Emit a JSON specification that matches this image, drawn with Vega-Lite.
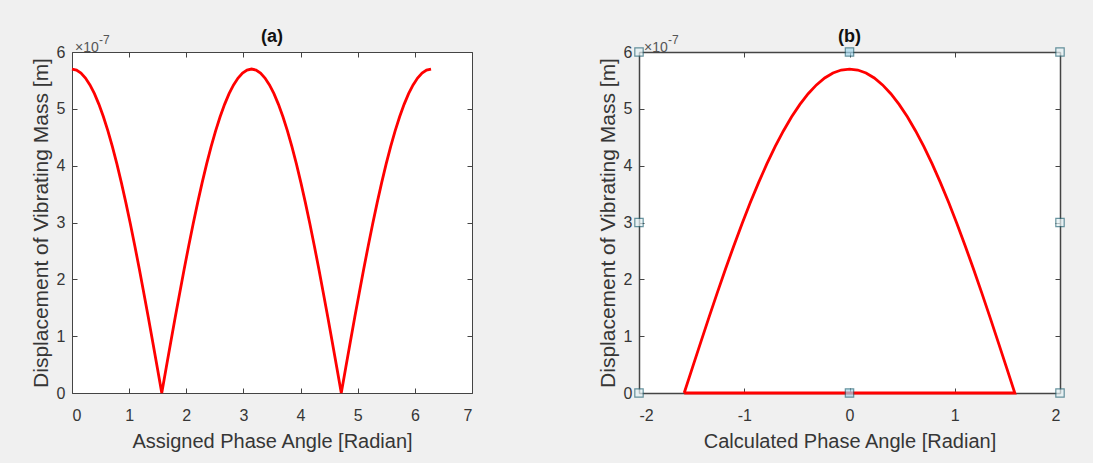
{
  "$schema": "https://vega.github.io/schema/vega-lite/v6.json",
  "background": "#f0f0f0",
  "padding": {"left": 30, "top": 28, "right": 32, "bottom": 12},
  "bounds": "flush",
  "spacing": 167,
  "config": {
    "font": "Liberation Sans",
    "view": {"stroke": null, "fill": "white"},
    "axis": {
      "domainColor": "#444444", "tickColor": "#444444", "tickSize": -5, "grid": false,
      "labelFont": "Liberation Sans", "labelFontSize": 16, "labelColor": "#363636",
      "titleFont": "Liberation Sans", "titleFontSize": 20, "titleFontWeight": "normal", "titleColor": "#363636"
    },
    "title": {"fontSize": 18, "fontWeight": "bold", "color": "#111", "font": "Liberation Sans"}
  },
  "datasets": {
    "a": [
      {"x": 0, "d": 5.7e-7}, {"x": 0.0785, "d": 5.6825e-7}, {"x": 0.1571, "d": 5.6298e-7}, {"x": 0.2356, "d": 5.5425e-7},
      {"x": 0.3142, "d": 5.421e-7}, {"x": 0.3927, "d": 5.2661e-7}, {"x": 0.4712, "d": 5.0788e-7}, {"x": 0.5498, "d": 4.86e-7},
      {"x": 0.6283, "d": 4.6114e-7}, {"x": 0.7069, "d": 4.3344e-7}, {"x": 0.7854, "d": 4.0305e-7}, {"x": 0.8639, "d": 3.7019e-7},
      {"x": 0.9425, "d": 3.3504e-7}, {"x": 1.021, "d": 2.9783e-7}, {"x": 1.0996, "d": 2.5877e-7}, {"x": 1.1781, "d": 2.1813e-7},
      {"x": 1.2566, "d": 1.7614e-7}, {"x": 1.3352, "d": 1.3307e-7}, {"x": 1.4137, "d": 0.8917e-7}, {"x": 1.4923, "d": 0.4472e-7},
      {"x": 1.5708, "d": 0},
      {"x": 1.6493, "d": 0.4472e-7}, {"x": 1.7279, "d": 0.8917e-7}, {"x": 1.8064, "d": 1.3307e-7}, {"x": 1.885, "d": 1.7614e-7},
      {"x": 1.9635, "d": 2.1813e-7}, {"x": 2.042, "d": 2.5877e-7}, {"x": 2.1206, "d": 2.9783e-7}, {"x": 2.1991, "d": 3.3504e-7},
      {"x": 2.2777, "d": 3.7019e-7}, {"x": 2.3562, "d": 4.0305e-7}, {"x": 2.4347, "d": 4.3344e-7}, {"x": 2.5133, "d": 4.6114e-7},
      {"x": 2.5918, "d": 4.86e-7}, {"x": 2.6704, "d": 5.0788e-7}, {"x": 2.7489, "d": 5.2661e-7}, {"x": 2.8274, "d": 5.421e-7},
      {"x": 2.906, "d": 5.5425e-7}, {"x": 2.9845, "d": 5.6298e-7}, {"x": 3.0631, "d": 5.6825e-7}, {"x": 3.1416, "d": 5.7e-7},
      {"x": 3.2201, "d": 5.6825e-7}, {"x": 3.2987, "d": 5.6298e-7}, {"x": 3.3772, "d": 5.5425e-7}, {"x": 3.4558, "d": 5.421e-7},
      {"x": 3.5343, "d": 5.2661e-7}, {"x": 3.6128, "d": 5.0788e-7}, {"x": 3.6914, "d": 4.86e-7}, {"x": 3.7699, "d": 4.6114e-7},
      {"x": 3.8485, "d": 4.3344e-7}, {"x": 3.927, "d": 4.0305e-7}, {"x": 4.0055, "d": 3.7019e-7}, {"x": 4.0841, "d": 3.3504e-7},
      {"x": 4.1626, "d": 2.9783e-7}, {"x": 4.2412, "d": 2.5877e-7}, {"x": 4.3197, "d": 2.1813e-7}, {"x": 4.3982, "d": 1.7614e-7},
      {"x": 4.4768, "d": 1.3307e-7}, {"x": 4.5553, "d": 0.8917e-7}, {"x": 4.6339, "d": 0.4472e-7}, {"x": 4.7124, "d": 0},
      {"x": 4.7909, "d": 0.4472e-7}, {"x": 4.8695, "d": 0.8917e-7}, {"x": 4.948, "d": 1.3307e-7}, {"x": 5.0265, "d": 1.7614e-7},
      {"x": 5.1051, "d": 2.1813e-7}, {"x": 5.1836, "d": 2.5877e-7}, {"x": 5.2622, "d": 2.9783e-7}, {"x": 5.3407, "d": 3.3504e-7},
      {"x": 5.4193, "d": 3.7019e-7}, {"x": 5.4978, "d": 4.0305e-7}, {"x": 5.5763, "d": 4.3344e-7}, {"x": 5.6549, "d": 4.6114e-7},
      {"x": 5.7334, "d": 4.86e-7}, {"x": 5.8119, "d": 5.0788e-7}, {"x": 5.8905, "d": 5.2661e-7}, {"x": 5.969, "d": 5.421e-7},
      {"x": 6.0476, "d": 5.5425e-7}, {"x": 6.1261, "d": 5.6298e-7}, {"x": 6.2046, "d": 5.6825e-7}, {"x": 6.2832, "d": 5.7e-7}
    ],
    "b": [
      {"i": 0, "x": -1.5708, "d": 0}, {"i": 1, "x": -1.4923, "d": 0.4472e-7}, {"i": 2, "x": -1.4137, "d": 0.8917e-7},
      {"i": 3, "x": -1.3352, "d": 1.3307e-7}, {"i": 4, "x": -1.2566, "d": 1.7614e-7}, {"i": 5, "x": -1.1781, "d": 2.1813e-7},
      {"i": 6, "x": -1.0996, "d": 2.5877e-7}, {"i": 7, "x": -1.021, "d": 2.9783e-7}, {"i": 8, "x": -0.9425, "d": 3.3504e-7},
      {"i": 9, "x": -0.8639, "d": 3.7019e-7}, {"i": 10, "x": -0.7854, "d": 4.0305e-7}, {"i": 11, "x": -0.7069, "d": 4.3344e-7},
      {"i": 12, "x": -0.6283, "d": 4.6114e-7}, {"i": 13, "x": -0.5498, "d": 4.86e-7}, {"i": 14, "x": -0.4712, "d": 5.0788e-7},
      {"i": 15, "x": -0.3927, "d": 5.2661e-7}, {"i": 16, "x": -0.3142, "d": 5.421e-7}, {"i": 17, "x": -0.2356, "d": 5.5425e-7},
      {"i": 18, "x": -0.1571, "d": 5.6298e-7}, {"i": 19, "x": -0.0785, "d": 5.6825e-7}, {"i": 20, "x": 0, "d": 5.7e-7},
      {"i": 21, "x": 0.0785, "d": 5.6825e-7}, {"i": 22, "x": 0.1571, "d": 5.6298e-7}, {"i": 23, "x": 0.2356, "d": 5.5425e-7},
      {"i": 24, "x": 0.3142, "d": 5.421e-7}, {"i": 25, "x": 0.3927, "d": 5.2661e-7}, {"i": 26, "x": 0.4712, "d": 5.0788e-7},
      {"i": 27, "x": 0.5498, "d": 4.86e-7}, {"i": 28, "x": 0.6283, "d": 4.6114e-7}, {"i": 29, "x": 0.7069, "d": 4.3344e-7},
      {"i": 30, "x": 0.7854, "d": 4.0305e-7}, {"i": 31, "x": 0.8639, "d": 3.7019e-7}, {"i": 32, "x": 0.9425, "d": 3.3504e-7},
      {"i": 33, "x": 1.021, "d": 2.9783e-7}, {"i": 34, "x": 1.0996, "d": 2.5877e-7}, {"i": 35, "x": 1.1781, "d": 2.1813e-7},
      {"i": 36, "x": 1.2566, "d": 1.7614e-7}, {"i": 37, "x": 1.3352, "d": 1.3307e-7}, {"i": 38, "x": 1.4137, "d": 0.8917e-7},
      {"i": 39, "x": 1.4923, "d": 0.4472e-7}, {"i": 40, "x": 1.5708, "d": 0},
      {"i": 41, "x": -1.5708, "d": 0}
    ],
    "handles": [
      {"x": -2, "d": 0, "sel": "n"}, {"x": 0, "d": 0, "sel": "y"}, {"x": 2, "d": 0, "sel": "n"},
      {"x": -2, "d": 3e-7, "sel": "n"}, {"x": 2, "d": 3e-7, "sel": "n"},
      {"x": -2, "d": 6e-7, "sel": "n"}, {"x": 0, "d": 6e-7, "sel": "y"}, {"x": 2, "d": 6e-7, "sel": "n"}
    ],
    "exp": [{"x": 0, "d": 6e-7, "base": "×10", "power": "-7"}],
    "expb": [{"x": -2, "d": 6e-7, "base": "×10", "power": "-7"}]
  },
  "hconcat": [
    {
      "width": 400, "height": 341,
      "title": {"text": "(a)", "frame": "group", "offset": -12},
      "resolve": {"axis": {"x": "independent", "y": "independent"}},
      "layer": [
        {
          "data": {"name": "a"},
          "mark": {"type": "line", "color": "#ff0000", "strokeWidth": 2.8},
          "encoding": {
            "x": {"field": "x", "type": "quantitative", "scale": {"domain": [0, 7], "nice": false},
                  "axis": {"values": [0, 1, 2, 3, 4, 5, 6, 7], "title": "Assigned Phase Angle [Radian]", "labelPadding": 19, "titlePadding": 8}},
            "y": {"field": "d", "type": "quantitative", "scale": {"domain": [0, 6e-7], "nice": false},
                  "axis": {"values": [0, 1e-7, 2e-7, 3e-7, 4e-7, 5e-7, 6e-7], "labelExpr": "'' + round(datum.value * 1e7)",
                           "title": "Displacement of Vibrating Mass [m]", "titleFontSize": 21, "labelPadding": 12, "titlePadding": 5}}
          }
        },
        {
          "data": {"name": "a"},
          "mark": {"type": "point", "opacity": 0},
          "encoding": {
            "x": {"field": "x", "type": "quantitative", "axis": {"orient": "top", "labels": false, "title": null, "values": [0, 1, 2, 3, 4, 5, 6, 7]}},
            "y": {"field": "d", "type": "quantitative", "axis": {"orient": "right", "labels": false, "title": null, "values": [0, 1e-7, 2e-7, 3e-7, 4e-7, 5e-7, 6e-7]}}
          }
        },
        {
          "data": {"name": "exp"},
          "mark": {"type": "text", "align": "left", "baseline": "alphabetic", "dx": 3, "dy": 0, "fontSize": 14, "color": "#555"},
          "encoding": {
            "x": {"field": "x", "type": "quantitative", "axis": null},
            "y": {"field": "d", "type": "quantitative", "axis": null},
            "text": {"field": "base"}
          }
        },
        {
          "data": {"name": "exp"},
          "mark": {"type": "text", "align": "left", "baseline": "alphabetic", "dx": 27, "dy": -8, "fontSize": 12, "color": "#555"},
          "encoding": {
            "x": {"field": "x", "type": "quantitative", "axis": null},
            "y": {"field": "d", "type": "quantitative", "axis": null},
            "text": {"field": "power"}
          }
        }
      ]
    },
    {
      "width": 421, "height": 341,
      "title": {"text": "(b)", "frame": "group", "offset": -12},
      "resolve": {"axis": {"x": "independent", "y": "independent"}},
      "layer": [
        {
          "data": {"name": "b"},
          "mark": {"type": "line", "color": "#ff0000", "strokeWidth": 2.8},
          "encoding": {
            "x": {"field": "x", "type": "quantitative", "scale": {"domain": [-2, 2], "nice": false},
                  "axis": {"values": [-2, -1, 0, 1, 2], "labelExpr": "datum.value < 0 ? '-' + abs(datum.value) : '' + datum.value",
                           "title": "Calculated Phase Angle [Radian]", "labelPadding": 19, "titlePadding": 8, "domainWidth": 1.5}},
            "y": {"field": "d", "type": "quantitative", "scale": {"domain": [0, 6e-7], "nice": false},
                  "axis": {"values": [0, 1e-7, 2e-7, 3e-7, 4e-7, 5e-7, 6e-7], "labelExpr": "'' + round(datum.value * 1e7)",
                           "title": "Displacement of Vibrating Mass [m]", "titleFontSize": 21, "labelPadding": 12, "titlePadding": 5, "domainWidth": 1.5}},
            "order": {"field": "i", "type": "quantitative"}
          }
        },
        {
          "data": {"name": "b"},
          "mark": {"type": "point", "opacity": 0},
          "encoding": {
            "x": {"field": "x", "type": "quantitative", "axis": {"orient": "top", "labels": false, "title": null, "values": [-2, -1, 0, 1, 2], "domainWidth": 1.5}},
            "y": {"field": "d", "type": "quantitative", "axis": {"orient": "right", "labels": false, "title": null, "values": [0, 1e-7, 2e-7, 3e-7, 4e-7, 5e-7, 6e-7], "domainWidth": 1.5}}
          }
        },
        {
          "data": {"name": "expb"},
          "mark": {"type": "text", "align": "left", "baseline": "alphabetic", "dx": 5, "dy": 0, "fontSize": 14, "color": "#555"},
          "encoding": {
            "x": {"field": "x", "type": "quantitative", "axis": null},
            "y": {"field": "d", "type": "quantitative", "axis": null},
            "text": {"field": "base"}
          }
        },
        {
          "data": {"name": "expb"},
          "mark": {"type": "text", "align": "left", "baseline": "alphabetic", "dx": 29, "dy": -8, "fontSize": 12, "color": "#555"},
          "encoding": {
            "x": {"field": "x", "type": "quantitative", "axis": null},
            "y": {"field": "d", "type": "quantitative", "axis": null},
            "text": {"field": "power"}
          }
        },
        {
          "data": {"name": "handles"},
          "mark": {"type": "point", "shape": "square", "size": 70, "filled": true, "stroke": "#2a6878", "strokeWidth": 1.2, "clip": false},
          "encoding": {
            "x": {"field": "x", "type": "quantitative", "axis": null},
            "y": {"field": "d", "type": "quantitative", "axis": null},
            "fill": {"field": "sel", "type": "nominal", "scale": {"domain": ["n", "y"], "range": ["#e4f1f4", "#a6d8ee"]}, "legend": null}
          }
        }
      ]
    }
  ]
}
